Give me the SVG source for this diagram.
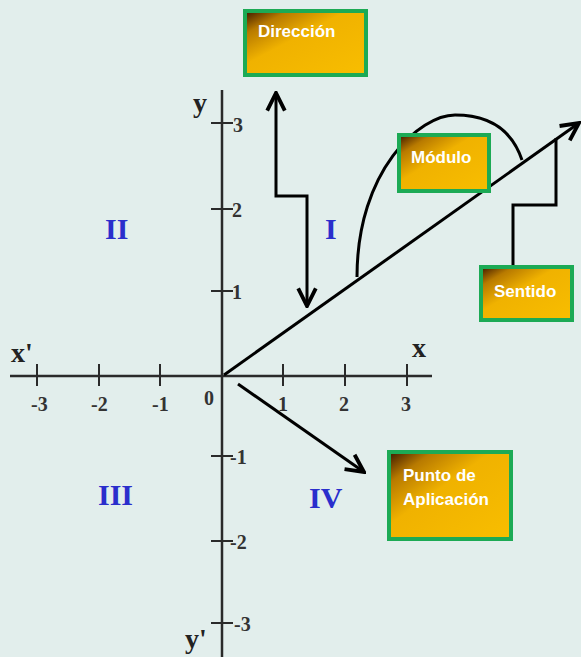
<svg xmlns="http://www.w3.org/2000/svg" width="581" height="657" viewBox="0 0 581 657">
<defs>
<linearGradient id="g" x1="0" y1="0" x2="1" y2="1">
<stop offset="0" stop-color="#3a1500"/>
<stop offset="0.18" stop-color="#b87a00"/>
<stop offset="0.42" stop-color="#f0b200"/>
<stop offset="1" stop-color="#f8be00"/>
</linearGradient>
<marker id="ah2" viewBox="0 0 20 20" refX="18" refY="10" markerWidth="22" markerHeight="22" orient="auto-start-reverse" markerUnits="userSpaceOnUse">
<path d="M2,2 L18,10 L2,18" fill="none" stroke="#000" stroke-width="3.5"/>
</marker>
</defs>
<style>
.box{fill:url(#g);stroke:#1caa55;stroke-width:4}
.bt{font-family:"Liberation Sans",Arial,sans-serif;font-weight:bold;font-size:17px;fill:#fff}
.ax{stroke:#2a2a2a;stroke-width:2.5;fill:none}
.tk{stroke:#2a2a2a;stroke-width:2;fill:none}
.lb{font-family:"Liberation Serif","Times New Roman",serif;font-weight:bold;font-size:20px;fill:#333}
.ax2{font-family:"Liberation Serif","Times New Roman",serif;font-weight:bold;font-size:28px;fill:#222}
.rn{font-family:"Liberation Serif","Times New Roman",serif;font-weight:bold;font-size:30px;fill:#2a2ecc}
.cn{stroke:#000;stroke-width:3;fill:none}
</style>
<rect width="581" height="657" fill="#e2eeec"/>
<g id="axes">
<line class="ax" x1="10" y1="376" x2="432" y2="376"/>
<line class="ax" x1="222" y1="90" x2="222" y2="657"/>
<g class="tk">
<line x1="37" y1="364" x2="37" y2="386"/>
<line x1="99" y1="364" x2="99" y2="386"/>
<line x1="160" y1="364" x2="160" y2="386"/>
<line x1="283" y1="364" x2="283" y2="386"/>
<line x1="345" y1="364" x2="345" y2="386"/>
<line x1="407" y1="364" x2="407" y2="386"/>
<line x1="211" y1="123" x2="233" y2="123"/>
<line x1="211" y1="209" x2="233" y2="209"/>
<line x1="211" y1="291" x2="233" y2="291"/>
<line x1="211" y1="456" x2="233" y2="456"/>
<line x1="211" y1="541" x2="233" y2="541"/>
<line x1="211" y1="623" x2="233" y2="623"/>
</g>
<text class="lb" x="31" y="411">-3</text>
<text class="lb" x="91" y="411">-2</text>
<text class="lb" x="152" y="411">-1</text>
<text class="lb" x="204" y="405">0</text>
<text class="lb" x="278" y="411">1</text>
<text class="lb" x="339" y="411">2</text>
<text class="lb" x="401" y="411">3</text>
<text class="lb" x="233" y="132">3</text>
<text class="lb" x="232" y="217">2</text>
<text class="lb" x="232" y="299">1</text>
<text class="lb" x="230" y="464">-1</text>
<text class="lb" x="230" y="549">-2</text>
<text class="lb" x="234" y="631">-3</text>
<text class="ax2" x="11" y="362">x'</text>
<text class="ax2" x="412" y="357">x</text>
<text class="ax2" x="193" y="112">y</text>
<text class="ax2" x="185" y="648">y'</text>
<text class="rn" x="105" y="239">II</text>
<text class="rn" x="325" y="239">I</text>
<text class="rn" x="98" y="505">III</text>
<text class="rn" x="309" y="508">IV</text>
</g>
<g id="connectors">
<line class="cn" x1="224" y1="375" x2="579" y2="123" marker-end="url(#ah2)"/>
<path class="cn" d="M357,277 C357,170 420,115 455,115 C490,115 512,130 522,160"/>
<polyline class="cn" points="276,93 276,196 307,196 307,306" marker-start="url(#ah2)" marker-end="url(#ah2)"/>
<polyline class="cn" points="513,266 513,205 556,205 556,138"/>
<line class="cn" x1="238" y1="384" x2="364" y2="472" marker-end="url(#ah2)"/>
</g>
<g id="direccion">
<rect class="box" x="245" y="11" width="121" height="64"/>
<text class="bt" x="258" y="37">Dirección</text>
</g>
<g id="modulo">
<rect class="box" x="399" y="135" width="90" height="56"/>
<text class="bt" x="411" y="163">Módulo</text>
</g>
<g id="sentido">
<rect class="box" x="481" y="267" width="91" height="53"/>
<text class="bt" x="494" y="297">Sentido</text>
</g>
<g id="punto">
<rect class="box" x="389" y="452" width="122" height="87"/>
<text class="bt" x="403" y="481">Punto de</text>
<text class="bt" x="403" y="505">Aplicación</text>
</g>
</svg>
